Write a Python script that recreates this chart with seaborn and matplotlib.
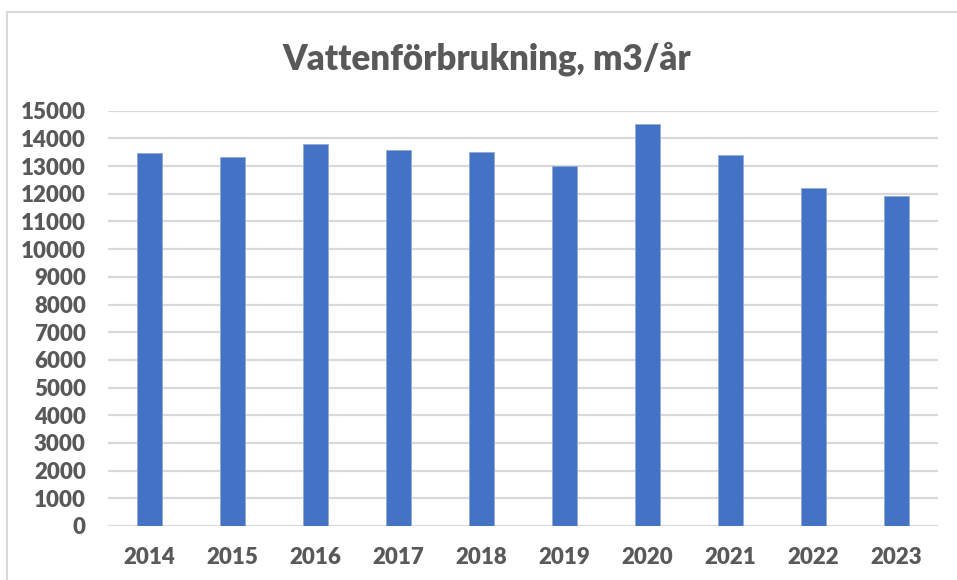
import matplotlib
matplotlib.use('Agg')
import matplotlib.pyplot as plt
import seaborn as sns
import pandas as pd
from matplotlib.patches import Rectangle

# --- Data ---
years = ['2014', '2015', '2016', '2017', '2018', '2019', '2020', '2021', '2022', '2023']
consumption = [13470, 13330, 13810, 13590, 13510, 13000, 14520, 13390, 12220, 11930]
y_ticks = list(range(0, 16000, 1000))

df = pd.DataFrame({'year': years, 'm3': consumption})

sns.set_theme(style='white')
plt.rcParams['font.family'] = ['Lato', 'DejaVu Sans']

text_col = '#595959'
grid_col = '#d9d9d9'

fig = plt.figure(figsize=(9.57, 5.8), dpi=100)
ax = fig.add_axes([108 / 957, 1 - 526 / 580, (938 - 108) / 957, (526 - 110.7) / 580])

# chart area border (Excel style)
fig.patches.append(Rectangle((7 / 957, -0.05), 1.0, 1 - 12 / 580 + 0.05,
                             transform=fig.transFigure, fill=False,
                             edgecolor=grid_col, linewidth=1.5, zorder=0))

sns.barplot(data=df, x='year', y='m3', color='#4472C4', width=0.31,
            saturation=1, edgecolor='#8eaadb', linewidth=0.6, ax=ax, zorder=3)

ax.set_xlim(-0.5, len(years) - 0.5)
ax.set_ylim(0, 15000)
ax.set_yticks(y_ticks)
ax.yaxis.grid(True, color=grid_col, linewidth=1.6)
ax.set_axisbelow(True)
for s in ax.spines.values():
    s.set_visible(False)

ax.set_xlabel('')
ax.set_ylabel('')
ax.tick_params(axis='both', length=0, labelsize=16, labelcolor=text_col)
ax.tick_params(axis='y', pad=16)
ax.tick_params(axis='x', pad=15)
for lbl in ax.get_xticklabels() + ax.get_yticklabels():
    lbl.set_fontweight('heavy')

fig.text(0.509, 1 - 69 / 580, 'Vattenförbrukning, m3/år', ha='center', va='baseline',
         fontsize=25, fontweight='heavy', color=text_col)

fig.savefig('out.png', dpi=100)
